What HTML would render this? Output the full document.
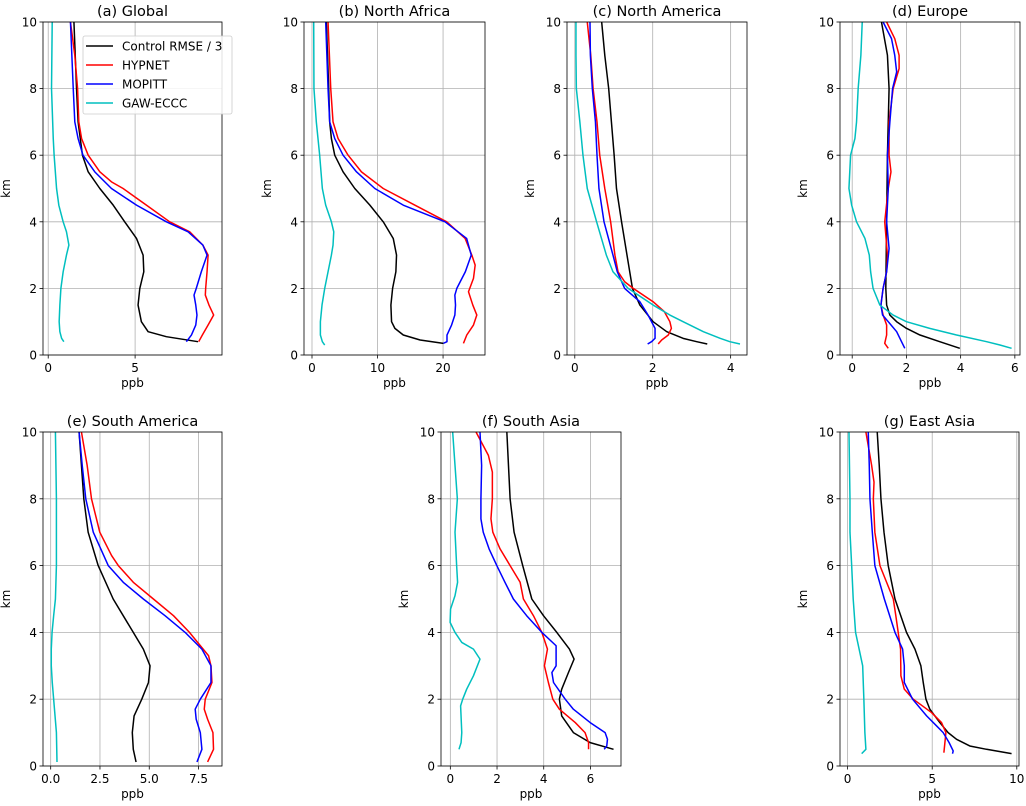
<!DOCTYPE html>
<html><head><meta charset="utf-8"><style>
html,body{margin:0;padding:0;background:#fff}
svg{display:block;font-family:"DejaVu Sans","Liberation Sans",sans-serif}
</style></head><body>
<svg id="chart" width="1026" height="806" viewBox="0 0 1026 806" xmlns="http://www.w3.org/2000/svg"></svg>
<script>
// Data: [altitude km, value ppb]
const aCtrl=[[10,1.48],[8,1.63],[7,1.72],[6,1.97],[5.5,2.3],[5,2.97],[4.5,3.74],[4,4.4],[3.5,5.08],[3,5.46],[2.5,5.5],[2,5.27],[1.5,5.17],[1,5.36],[0.7,5.75],[0.55,6.8],[0.4,8.62]];
const aHyp=[[10,1.28],[9,1.53],[8,1.69],[7,1.76],[6.5,1.92],[6,2.3],[5.5,2.97],[5.2,3.64],[5,4.31],[4.5,5.65],[4,6.99],[3.7,8.14],[3.3,8.9],[3,9.2],[2.5,9.14],[2,9.06],[1.8,9.04],[1.5,9.25],[1.2,9.52],[0.9,9.2],[0.6,8.87],[0.4,8.66]];
const aMop=[[10,1.28],[8,1.44],[7,1.53],[6.5,1.72],[6,2.0],[5.5,2.68],[5,3.64],[4.5,5.08],[4,6.8],[3.7,8.05],[3.3,8.9],[3,9.14],[2.5,8.81],[2,8.52],[1.8,8.39],[1.5,8.49],[1.2,8.56],[0.9,8.49],[0.6,8.24],[0.4,7.95]];
const aGaw=[[10,0.23],[8,0.19],[6.5,0.29],[6,0.34],[5,0.48],[4.5,0.61],[4,0.86],[3.7,1.05],[3.3,1.19],[3,1.05],[2.5,0.86],[2,0.73],[1.5,0.67],[1,0.63],[0.7,0.67],[0.5,0.77],[0.4,0.9]];

const bCtrl=[[10,2.19],[8,2.55],[7,2.7],[6.5,2.96],[6,3.47],[5.5,4.74],[5,6.53],[4.5,8.83],[4,10.87],[3.5,12.4],[3,12.9],[2.5,12.8],[2,12.3],[1.5,12.04],[1,12.14],[0.8,12.65],[0.6,13.93],[0.45,16.5],[0.35,20.05]];
const bHyp=[[10,2.45],[8,2.86],[7,3.21],[6.5,3.98],[6,5.51],[5.5,7.55],[5,10.87],[4.5,15.71],[4,20.56],[3.5,23.37],[3,24.39],[2.7,24.9],[2.3,24.64],[1.9,23.88],[1.5,24.54],[1.2,25.15],[0.9,24.64],[0.6,23.62],[0.35,23.11]];
const bMop=[[10,2.09],[8,2.45],[7,2.7],[6.5,3.47],[6,4.74],[5.5,6.79],[5,9.59],[4.5,13.93],[4,20.3],[3.5,23.6],[3,24.3],[2.5,23.4],[2,22.1],[1.8,21.8],[1.5,21.9],[1.2,21.8],[0.9,21.3],[0.6,20.6],[0.4,20.6],[0.35,20.05]];
const bGaw=[[10,0.26],[8,0.3],[7,0.66],[6,1.17],[5,1.58],[4.5,2.09],[4,2.96],[3.7,3.32],[3.3,3.21],[3,2.96],[2.5,2.45],[2,1.94],[1.5,1.53],[1,1.28],[0.6,1.28],[0.4,1.58],[0.3,1.94]];

const cCtrl=[[10,0.69],[9,0.77],[8,0.87],[7,0.94],[6,1.01],[5,1.07],[4,1.2],[3,1.34],[2.5,1.41],[2,1.48],[1.5,1.67],[1,2.01],[0.7,2.36],[0.5,2.78],[0.4,3.13],[0.33,3.4]];
const cHyp=[[10,0.32],[9,0.41],[8,0.47],[7,0.57],[6,0.64],[5,0.77],[4,0.92],[3,1.03],[2.5,1.11],[2.2,1.28],[2,1.5],[1.6,2.01],[1.3,2.3],[1,2.44],[0.8,2.48],[0.6,2.4],[0.45,2.23],[0.33,2.14]];
const cMop=[[10,0.39],[9,0.4],[8,0.45],[7,0.53],[6,0.57],[5,0.62],[4,0.75],[3,0.98],[2.5,1.09],[2,1.28],[1.6,1.67],[1.2,1.88],[0.8,2.06],[0.5,2.06],[0.4,1.97],[0.33,1.87]];
const cGaw=[[10,0.03],[9,0.03],[8,0.04],[7,0.13],[6,0.21],[5,0.32],[4,0.56],[3,0.81],[2.5,0.98],[2,1.37],[1.5,2.01],[1.2,2.44],[1,2.78],[0.7,3.3],[0.5,3.73],[0.4,3.98],[0.33,4.24]];

const dCtrl=[[10,1.08],[9,1.3],[8,1.36],[6,1.3],[4,1.27],[2,1.24],[1.5,1.27],[1.2,1.39],[1,1.64],[0.8,2.0],[0.6,2.5],[0.4,3.23],[0.2,3.97]];
const dHyp=[[10,1.27],[9.5,1.57],[9,1.73],[8.6,1.73],[8,1.51],[7,1.36],[6,1.36],[5.5,1.43],[5,1.33],[4,1.2],[3,1.3],[2.5,1.27],[2,1.14],[1.5,1.06],[1.2,1.14],[0.9,1.27],[0.6,1.27],[0.35,1.2],[0.2,1.33]];
const dMop=[[10,1.14],[9.5,1.45],[9,1.57],[8.5,1.64],[8,1.49],[7,1.39],[6,1.3],[5,1.33],[4,1.27],[3.2,1.36],[2.5,1.27],[2,1.14],[1.5,1.06],[1.2,1.12],[1,1.33],[0.7,1.64],[0.4,1.82],[0.2,1.94]];
const dGaw=[[10,0.37],[9,0.32],[8,0.22],[7,0.16],[6.5,0.1],[6,-0.06],[5,-0.12],[4.5,-0.02],[4,0.16],[3.5,0.47],[3,0.63],[2.5,0.68],[2,0.77],[1.5,1.02],[1.2,1.51],[1,2.0],[0.8,2.86],[0.6,3.85],[0.4,4.96],[0.3,5.45],[0.2,5.88]];

const eCtrl=[[10,1.44],[9,1.56],[8,1.68],[7,1.9],[6,2.41],[5,3.17],[4,4.19],[3.5,4.7],[3,5.04],[2.5,4.96],[2,4.62],[1.5,4.23],[1,4.14],[0.5,4.19],[0.12,4.33]];
const eHyp=[[10,1.56],[9,1.85],[8,2.07],[7,2.49],[6.3,3.09],[6,3.43],[5.5,4.19],[5,5.21],[4.5,6.23],[4,7.04],[3.3,8.01],[3,8.13],[2.5,8.18],[2,7.84],[1.7,7.79],[1.4,7.96],[1,8.23],[0.5,8.26],[0.12,7.96]];
const eMop=[[10,1.44],[9,1.6],[8,1.78],[7,2.16],[6,2.92],[5.5,3.68],[5,4.7],[4.5,5.8],[4,6.82],[3.5,7.67],[3,8.13],[2.5,8.13],[2,7.59],[1.7,7.33],[1.4,7.38],[1,7.59],[0.5,7.67],[0.12,7.42]];
const eGaw=[[10,0.24],[8,0.29],[6,0.29],[5,0.24],[4.5,0.15],[4,0.07],[3.5,0.03],[3,0.03],[2.5,0.08],[2,0.15],[1,0.29],[0.12,0.32]];

const fCtrl=[[10,2.42],[8,2.56],[7,2.73],[6,3.1],[5,3.49],[4.5,3.99],[4,4.56],[3.5,5.1],[3.2,5.3],[2.8,5.06],[2.3,4.77],[2,4.67],[1.5,4.77],[1,5.27],[0.7,5.99],[0.5,6.99]];
const fHyp=[[10,1.1],[9.3,1.63],[8.8,1.8],[8,1.8],[7.4,1.74],[7,1.82],[6.5,2.13],[6,2.56],[5.5,2.99],[5,3.13],[4.5,3.56],[4,3.92],[3.5,4.16],[3,4.03],[2.5,4.2],[2,4.39],[1.7,4.67],[1.3,5.35],[1,5.77],[0.7,5.92],[0.5,5.92]];
const fMop=[[10,1.27],[9,1.34],[8,1.31],[7.4,1.31],[7,1.41],[6.5,1.66],[6,1.99],[5.5,2.34],[5,2.7],[4.5,3.27],[4,3.92],[3.6,4.53],[3,4.53],[2.8,4.35],[2.5,4.42],[2,4.92],[1.7,5.27],[1.3,5.99],[1,6.63],[0.8,6.73],[0.6,6.7],[0.5,6.59]];
const fGaw=[[10,0.1],[9,0.2],[8,0.3],[7,0.2],[6,0.27],[5.5,0.31],[5.1,0.2],[4.7,0.01],[4.3,-0.01],[4,0.2],[3.7,0.49],[3.5,0.99],[3.2,1.27],[2.7,0.99],[2.3,0.7],[2,0.53],[1.8,0.44],[1,0.49],[0.7,0.46],[0.5,0.37]];

const gCtrl=[[10,1.75],[9,1.87],[8,1.97],[7,2.15],[6,2.4],[5,2.8],[4,3.48],[3.5,3.98],[3,4.33],[2.5,4.47],[2,4.63],[1.7,4.86],[1.3,5.45],[1,5.94],[0.8,6.44],[0.6,7.22],[0.5,8.21],[0.37,9.69]];
const gHyp=[[10,1.08],[9,1.42],[8.5,1.56],[8,1.52],[7,1.61],[6,1.91],[5,2.7],[4.5,2.85],[4,2.99],[3.5,3.13],[2.7,3.15],[2.3,3.35],[2,3.88],[1.6,4.96],[1.3,5.55],[1,5.81],[0.7,5.75],[0.4,5.69]];
const gMop=[[10,1.22],[9,1.28],[8,1.32],[7,1.46],[6,1.61],[5,2.17],[4,2.8],[3.5,3.25],[3,3.35],[2.5,3.35],[2,3.84],[1.5,4.67],[1.2,5.26],[1,5.65],[0.7,6.0],[0.45,6.24],[0.37,6.2]];
const gGaw=[[10,0.08],[8,0.14],[7,0.14],[6,0.24],[5,0.33],[4,0.47],[3,0.89],[2,0.96],[1,1.02],[0.5,1.08],[0.37,0.83]];

const xTicksA=[0,5], xTicksB=[0,10,20], xTicksC=[0,2,4], xTicksD=[0,2,4,6];
const xTicksE=[0,2.5,5,7.5], xTickLabelsE=["0.0","2.5","5.0","7.5"];
const xTicksF=[0,2,4,6], xTicksG=[0,5,10];
const yTicks=[0,2,4,6,8,10];
const seriesNames=["Control RMSE / 3","HYPNET","MOPITT","GAW-ECCC"];
const seriesColors=["#000000","#ff0000","#0000ff","#00bfbf"];

const panels=[
 {id:"a",title:"(a) Global",l:43,r:222,t:22,b:355,xmin:-0.3,xmax:10,ticks:xTicksA,data:[aCtrl,aHyp,aMop,aGaw],legend:true},
 {id:"b",title:"(b) North Africa",l:304,r:485,t:22,b:355,xmin:-1.22,xmax:26.4,ticks:xTicksB,data:[bCtrl,bHyp,bMop,bGaw]},
 {id:"c",title:"(c) North America",l:567,r:747,t:22,b:355,xmin:-0.2,xmax:4.42,ticks:xTicksC,data:[cCtrl,cHyp,cMop,cGaw]},
 {id:"d",title:"(d) Europe",l:840,r:1020,t:22,b:355,xmin:-0.45,xmax:6.19,ticks:xTicksD,data:[dCtrl,dHyp,dMop,dGaw]},
 {id:"e",title:"(e) South America",l:43,r:222,t:432,b:766,xmin:-0.39,xmax:8.69,ticks:xTicksE,labels:xTickLabelsE,data:[eCtrl,eHyp,eMop,eGaw]},
 {id:"f",title:"(f) South Asia",l:441,r:621,t:432,b:766,xmin:-0.4,xmax:7.31,ticks:xTicksF,data:[fCtrl,fHyp,fMop,fGaw]},
 {id:"g",title:"(g) East Asia",l:840,r:1019,t:432,b:766,xmin:-0.45,xmax:10.13,ticks:xTicksG,data:[gCtrl,gHyp,gMop,gGaw]}
];
const NS="http://www.w3.org/2000/svg";
const svg=document.getElementById('chart');
function mk(tag,attrs,parent,text){const e=document.createElementNS(NS,tag);for(const k in attrs)e.setAttribute(k,attrs[k]);if(text!==undefined)e.textContent=text;(parent||svg).appendChild(e);return e;}
function fmt(v){return String(v);}
panels.forEach(p=>{
 const g=mk('g',{});
 
 
 const xs=v=>p.l+(v-p.xmin)/(p.xmax-p.xmin)*(p.r-p.l);
 const ys=v=>p.b-(v-0)/(10-0)*(p.b-p.t);
 p.ticks.forEach((t,i)=>{
  const x=xs(t);
  const gl=mk('line',{x1:x,x2:x,y1:p.t,y2:p.b,stroke:'#b0b0b0','stroke-width':0.8},g);
  
  
  mk('line',{x1:x,x2:x,y1:p.b,y2:p.b+3.5,stroke:'#000','stroke-width':0.8},g);
  const lb=mk('text',{x:x,y:p.b+17,'font-size':12,'text-anchor':'middle',fill:'#000'},g,p.labels?p.labels[i]:fmt(t));
  
  
 });
 yTicks.forEach(t=>{
  const y=ys(t);
  const gl=mk('line',{x1:p.l,x2:p.r,y1:y,y2:y,stroke:'#b0b0b0','stroke-width':0.8},g);
  
  
  mk('line',{x1:p.l-3.5,x2:p.l,y1:y,y2:y,stroke:'#000','stroke-width':0.8},g);
  const lb=mk('text',{x:p.l-6,y:y+4.5,'font-size':12,'text-anchor':'end',fill:'#000'},g,fmt(t));
  
  
 });
 p.data.forEach((s,si)=>{
  const d=s.map((pt,i)=>(i?'L':'M')+xs(pt[1]).toFixed(2)+' '+ys(pt[0]).toFixed(2)).join(' ');
  const path=mk('path',{d:d,fill:'none',stroke:seriesColors[si],'stroke-width':1.5,'stroke-linejoin':'round'},g);
  
  
 });
 const fr=mk('rect',{x:p.l,y:p.t,width:p.r-p.l,height:p.b-p.t,fill:'none',stroke:'#000','stroke-width':0.8},g);
 
 
 const tt=mk('text',{x:(p.l+p.r)/2,y:p.t-6,'font-size':14.5,'text-anchor':'middle',fill:'#000'},g,p.title);
 
 
 const xl=mk('text',{x:(p.l+p.r)/2,y:p.b+32,'font-size':12,'text-anchor':'middle',fill:'#000'},g,'ppb');
 
 
 const cy=(p.t+p.b)/2, cx=p.l-33;
 const yl=mk('text',{x:cx,y:cy,'font-size':12,'text-anchor':'middle',fill:'#000',transform:'rotate(-90 '+cx+' '+cy+')'},g,'km');
 
 
 if(p.legend){
  const lg=mk('g',{},g);
  
  
  mk('rect',{x:83,y:36,width:149,height:78,rx:2,fill:'#fff','fill-opacity':0.85,stroke:'#cccccc','stroke-width':0.8},lg);
  seriesNames.forEach((n,i)=>{
   const y=46+i*19;
   const en=mk('g',{},lg);
   
   
   mk('line',{x1:86,x2:113,y1:y,y2:y,stroke:seriesColors[i],'stroke-width':1.5},en);
   mk('text',{x:122,y:y+4.5,'font-size':12,fill:'#000'},en,n);
  });
 }
});
</script>
</body></html>
